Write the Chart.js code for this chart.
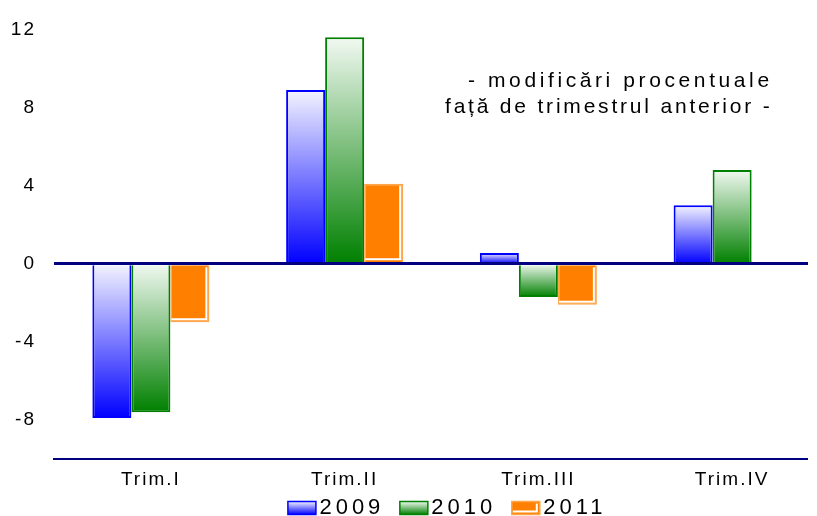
<!DOCTYPE html>
<html><head><meta charset="utf-8">
<script src="https://cdn.jsdelivr.net/npm/chart.js@4.4.1/dist/chart.umd.min.js"></script>
<style>
html,body{margin:0;padding:0;background:#fff;overflow:hidden}
#clip{position:absolute;left:0;top:0;width:808px;height:516px;overflow:hidden;background:#fff}
#box{position:absolute;left:0;top:0;width:884px;height:529px}
</style></head><body>
<div id="clip"><div id="box"><canvas id="c"></canvas></div></div>
<script>
const categories = ['Trim.I', 'Trim.II', 'Trim.III', 'Trim.IV'];
const seriesLabels = ['2009', '2010', '2011'];
const series2009 = [-7.9, 8.9, 0.55, 3.0];
const series2010 = [-7.6, 11.6, -1.7, 4.8];
const series2011 = [-3.0, 4.1, -2.1, null];
const yTickValues = [-10, -8, -4, 0, 4, 8, 12];
const noteLines = ['- modificări procentuale', 'față de trimestrul anterior -'];

const FONT = '"Liberation Sans", Arial, Helvetica, sans-serif';
const BLUE = '#0000ff', BLUE_LIGHT = '#f4f4ff';
const GREEN = '#008000', GREEN_LIGHT = '#f2f9f2';
const ORANGE = '#ff8000', ORANGE_EDGE = '#ffa54a';
const NAVY = '#000080';
const LEGEND_FONT = 22;
const LEGEND_BOX_W = 31;   // space reserved by Chart.js before the text
const MARK_W = 28, MARK_H = 13, MARK_GAP = 3.5;

function barGradient(dark, light) {
  return function (c) {
    if (c.type !== 'data') return dark;
    const chart = c.chart, y = chart.scales.y;
    if (!chart.chartArea || !y) return dark;
    const v = c.parsed ? c.parsed.y : c.raw;
    if (v == null || isNaN(v)) return dark;
    const p1 = y.getPixelForValue(v), p0 = y.getPixelForValue(0);
    const top = Math.min(p0, p1), bot = Math.max(p0, p1);
    if (bot - top < 1) return dark;
    const g = chart.ctx.createLinearGradient(0, top, 0, bot);
    g.addColorStop(0, light); g.addColorStop(1, dark);
    return g;
  };
}

function wrapLegend(chart) {
  const lg = chart.legend;
  if (!lg || lg._wrapped) return;
  const wrap = (fn) => function () {
    const ctx = chart.ctx; const prev = ctx.letterSpacing;
    ctx.letterSpacing = '4px';
    const r = fn.apply(this, arguments);
    ctx.letterSpacing = prev;
    return r;
  };
  lg.fit = wrap(lg.fit); lg.draw = wrap(lg.draw);
  lg._wrapped = true;
}

const spacingPlugin = {
  id: 'spacing',
  afterInit(chart) { wrapLegend(chart); },
  beforeUpdate(chart) { wrapLegend(chart); chart.ctx.letterSpacing = '2px'; },
  beforeLayout(chart) { chart.ctx.letterSpacing = '2px'; },
  beforeDraw(chart) { chart.ctx.letterSpacing = '2px'; }
};

function orangeDecor(ctx, l, t, r, b) {
  ctx.save();
  ctx.strokeStyle = '#ffffff'; ctx.lineWidth = 2;
  ctx.beginPath();
  ctx.moveTo(r - 3, t + 2); ctx.lineTo(r - 3, b - 3);
  ctx.lineTo(l + 1, b - 3);
  ctx.stroke();
  ctx.restore();
}

const decorPlugin = {
  id: 'decor',
  afterDatasetsDraw(chart) {
    const ctx = chart.ctx;
    const meta = chart.getDatasetMeta(2);
    meta.data.forEach((el, i) => {
      if (series2011[i] == null) return;
      const p = el.getProps(['x', 'y', 'base', 'width'], true);
      const l = p.x - p.width / 2, r = p.x + p.width / 2;
      const t = Math.min(p.y, p.base), b = Math.max(p.y, p.base);
      orangeDecor(ctx, l, t, r, b);
    });
  },
  afterDraw(chart) {
    const ctx = chart.ctx;
    const lg = chart.legend;
    if (lg && lg.legendHitBoxes) {
      const styles = [[BLUE, BLUE_LIGHT], [GREEN, GREEN_LIGHT], [ORANGE, null]];
      lg.legendHitBoxes.forEach((hb, i) => {
        const textX = hb.left + LEGEND_BOX_W + LEGEND_FONT / 2;
        const x = textX - MARK_GAP - MARK_W, y = hb.top + (hb.height - MARK_H) / 2, w = MARK_W, h = MARK_H;
        ctx.save();
        const st = styles[i];
        if (st[1]) {
          const g = ctx.createLinearGradient(0, y, 0, y + h);
          g.addColorStop(0, st[1]); g.addColorStop(1, st[0]);
          ctx.fillStyle = g;
          ctx.fillRect(x, y, w, h);
          ctx.strokeStyle = st[0]; ctx.lineWidth = 1.5;
          ctx.strokeRect(x, y, w, h);
        } else {
          ctx.fillStyle = ORANGE; ctx.fillRect(x, y, w, h);
          orangeDecor(ctx, x, y, x + w, y + h);
          ctx.strokeStyle = ORANGE_EDGE; ctx.lineWidth = 1.5;
          ctx.strokeRect(x, y, w, h);
        }
        ctx.restore();
      });
    }
    ctx.save();
    ctx.fillStyle = '#000';
    ctx.font = '21px ' + FONT;
    ctx.textAlign = 'left'; ctx.textBaseline = 'alphabetic';
    ctx.letterSpacing = '3.6px';
    ctx.fillText(noteLines[0], 468, 87);
    ctx.letterSpacing = '2.8px';
    ctx.fillText(noteLines[1], 445, 113);
    ctx.restore();
  }
};

Chart.defaults.font.family = FONT;
Chart.defaults.color = '#000';

new Chart(document.getElementById('c'), {
  type: 'bar',
  data: {
    labels: categories,
    datasets: [
      { label: seriesLabels[0], data: series2009, backgroundColor: barGradient(BLUE, BLUE_LIGHT),
        borderColor: BLUE, borderWidth: 2, borderSkipped: 'start' },
      { label: seriesLabels[1], data: series2010, backgroundColor: barGradient(GREEN, GREEN_LIGHT),
        borderColor: GREEN, borderWidth: 2, borderSkipped: 'start' },
      { label: seriesLabels[2], data: series2011, backgroundColor: ORANGE,
        borderColor: ORANGE_EDGE, borderWidth: 1.5, borderSkipped: 'start' }
    ]
  },
  options: {
    responsive: true,
    maintainAspectRatio: false,
    animation: false,
    datasets: { bar: { categoryPercentage: 0.604, barPercentage: 1.0 } },
    layout: { padding: { top: 24, left: 0, right: 0, bottom: 0 } },
    scales: {
      x: {
        grid: { display: false, drawTicks: false },
        border: { display: true, color: NAVY, width: 2 },
        ticks: { font: { size: 19 }, color: '#000', padding: 9, maxRotation: 0 },
        afterFit(s) { s.height = 33; }
      },
      y: {
        min: -10, max: 12,
        afterFit(s) { s.width = 54; },
        afterBuildTicks(s) { s.ticks = yTickValues.map(v => ({ value: v })); },
        ticks: { font: { size: 19 }, color: '#000', padding: 18,
          callback: (v) => (v === -10 ? '' : String(v)) },
        grid: { z: 1, drawTicks: false,
          color: (c) => (c.tick && c.tick.value === 0 ? NAVY : 'rgba(0,0,0,0)'),
          lineWidth: (c) => (c.tick && c.tick.value === 0 ? 3 : 0) },
        border: { display: false }
      },
      yPad: {
        position: 'right', display: true,
        grid: { display: false, drawTicks: false }, border: { display: false },
        ticks: { display: false },
        afterFit(s) { s.width = 55; }
      }
    },
    plugins: {
      tooltip: { enabled: false },
      legend: {
        position: 'bottom',
        labels: {
          font: { size: LEGEND_FONT }, color: '#000',
          boxWidth: LEGEND_BOX_W, boxHeight: MARK_H, padding: 5,
          generateLabels(chart) {
            const items = Chart.defaults.plugins.legend.labels.generateLabels(chart);
            items.forEach(it => { it.fillStyle = 'rgba(0,0,0,0)'; it.strokeStyle = 'rgba(0,0,0,0)'; it.lineWidth = 0; });
            return items;
          }
        }
      }
    }
  },
  plugins: [spacingPlugin, decorPlugin]
});
</script>
</body></html>
